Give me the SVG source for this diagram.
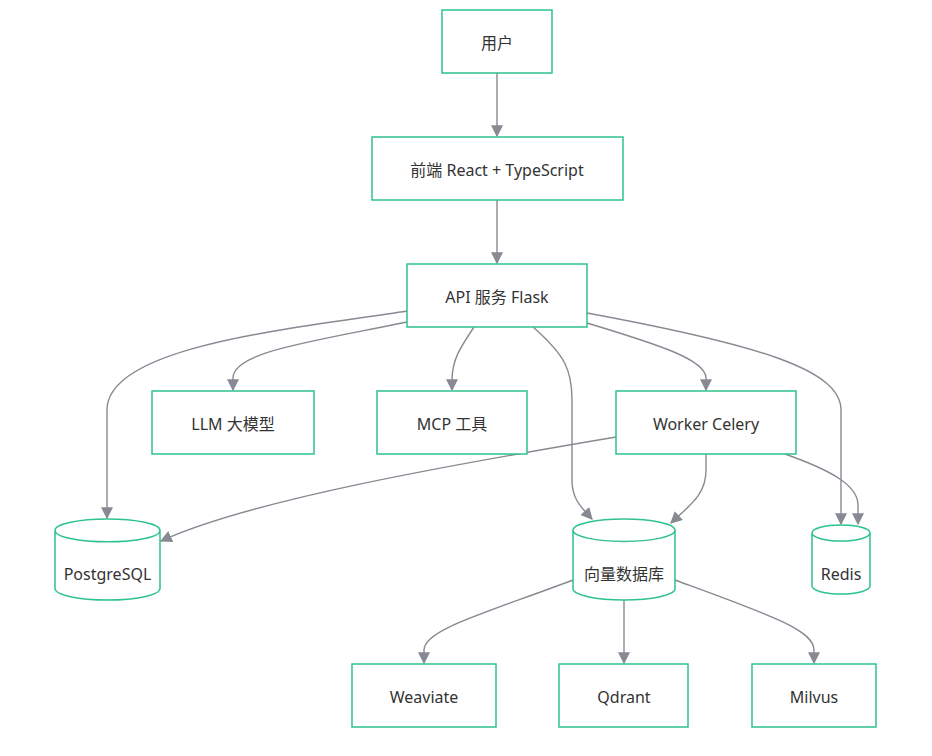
<svg xmlns="http://www.w3.org/2000/svg" width="932" height="756" viewBox="0 0 932 756">
<style>
.n{fill:#ffffff;stroke:#2ec28e;stroke-width:1.5}
.t{font-family:"Noto Sans","Noto Sans CJK SC",sans-serif;font-size:16px;fill:#333333;text-anchor:middle;dominant-baseline:central}
.e{fill:none;stroke:#888a93;stroke-width:1.4}
</style>
<defs>
<marker id="ah" viewBox="0 0 10 10" refX="9" refY="5" markerWidth="12" markerHeight="12" markerUnits="userSpaceOnUse" orient="auto">
<path d="M0,0 L10,5 L0,10 z" fill="#888a93"/>
</marker>
</defs>
<rect width="932" height="756" fill="#ffffff"/>
<g id="edges">
<path class="e" marker-end="url(#ah)" d="M497,73 L497,136"/>
<path class="e" marker-end="url(#ah)" d="M497,200 L497,263"/>
<path class="e" marker-end="url(#ah)" d="M407,311 C300,328 107,345 107,410 L107,518"/>
<path class="e" marker-end="url(#ah)" d="M407,322 C310,342 233,352 233,378 L233,390"/>
<path class="e" marker-end="url(#ah)" d="M474,327 C460,348 452,360 452,380 L452,390"/>
<path class="e" marker-end="url(#ah)" d="M533,327 C565,355 572,370 572,400 L572,480 C572,500 582,508 592,519"/>
<path class="e" marker-end="url(#ah)" d="M587,323 C660,345 706,360 706,378 L706,390"/>
<path class="e" marker-end="url(#ah)" d="M587,313 C760,345 841,370 841,410 L841,524"/>
<path class="e" marker-end="url(#ah)" d="M616,437 C450,465 250,500 161,541"/>
<path class="e" marker-end="url(#ah)" d="M706,454 L706,470 C706,495 690,505 671,523"/>
<path class="e" marker-end="url(#ah)" d="M785,454 C830,470 858,485 858,505 L858,524"/>
<path class="e" marker-end="url(#ah)" d="M573,580 C480,615 424,630 424,650 L424,663"/>
<path class="e" marker-end="url(#ah)" d="M624,600 L624,663"/>
<path class="e" marker-end="url(#ah)" d="M675,580 C770,615 814,630 814,650 L814,663"/>
</g>
<g id="user"><rect class="n" x="442" y="10" width="110" height="63"/><text class="t" x="497" y="43">用户</text></g>
<g id="frontend"><rect class="n" x="372" y="137" width="251" height="63"/><text class="t" x="497" y="170">前端 React + TypeScript</text></g>
<g id="api"><rect class="n" x="407" y="264" width="180" height="63"/><text class="t" x="497" y="297">API 服务 Flask</text></g>
<g id="llm"><rect class="n" x="152" y="391" width="162" height="63"/><text class="t" x="233" y="424">LLM 大模型</text></g>
<g id="mcp"><rect class="n" x="377" y="391" width="150" height="63"/><text class="t" x="452" y="424">MCP 工具</text></g>
<g id="worker"><rect class="n" x="616" y="391" width="180" height="63"/><text class="t" x="706" y="424">Worker Celery</text></g>
<g id="postgres"><path class="n" d="M55,530.4 a52.5,11.4 0 0 0 105,0 a52.5,11.4 0 0 0 -105,0 l0,58.2 a52.5,11.4 0 0 0 105,0 l0,-58.2"/><text class="t" x="107.5" y="574">PostgreSQL</text></g>
<g id="vectordb"><path class="n" d="M573,530.2 a51,11.2 0 0 0 102,0 a51,11.2 0 0 0 -102,0 l0,58.6 a51,11.2 0 0 0 102,0 l0,-58.6"/><text class="t" x="624" y="574">向量数据库</text></g>
<g id="redis"><path class="n" d="M812,533 a29,8 0 0 0 58,0 a29,8 0 0 0 -58,0 l0,53 a29,8 0 0 0 58,0 l0,-53"/><text class="t" x="841" y="574">Redis</text></g>
<g id="weaviate"><rect class="n" x="352" y="664" width="144" height="63"/><text class="t" x="424" y="697">Weaviate</text></g>
<g id="qdrant"><rect class="n" x="559" y="664" width="129" height="63"/><text class="t" x="624" y="697">Qdrant</text></g>
<g id="milvus"><rect class="n" x="752" y="664" width="124" height="63"/><text class="t" x="814" y="697">Milvus</text></g>
</svg>
